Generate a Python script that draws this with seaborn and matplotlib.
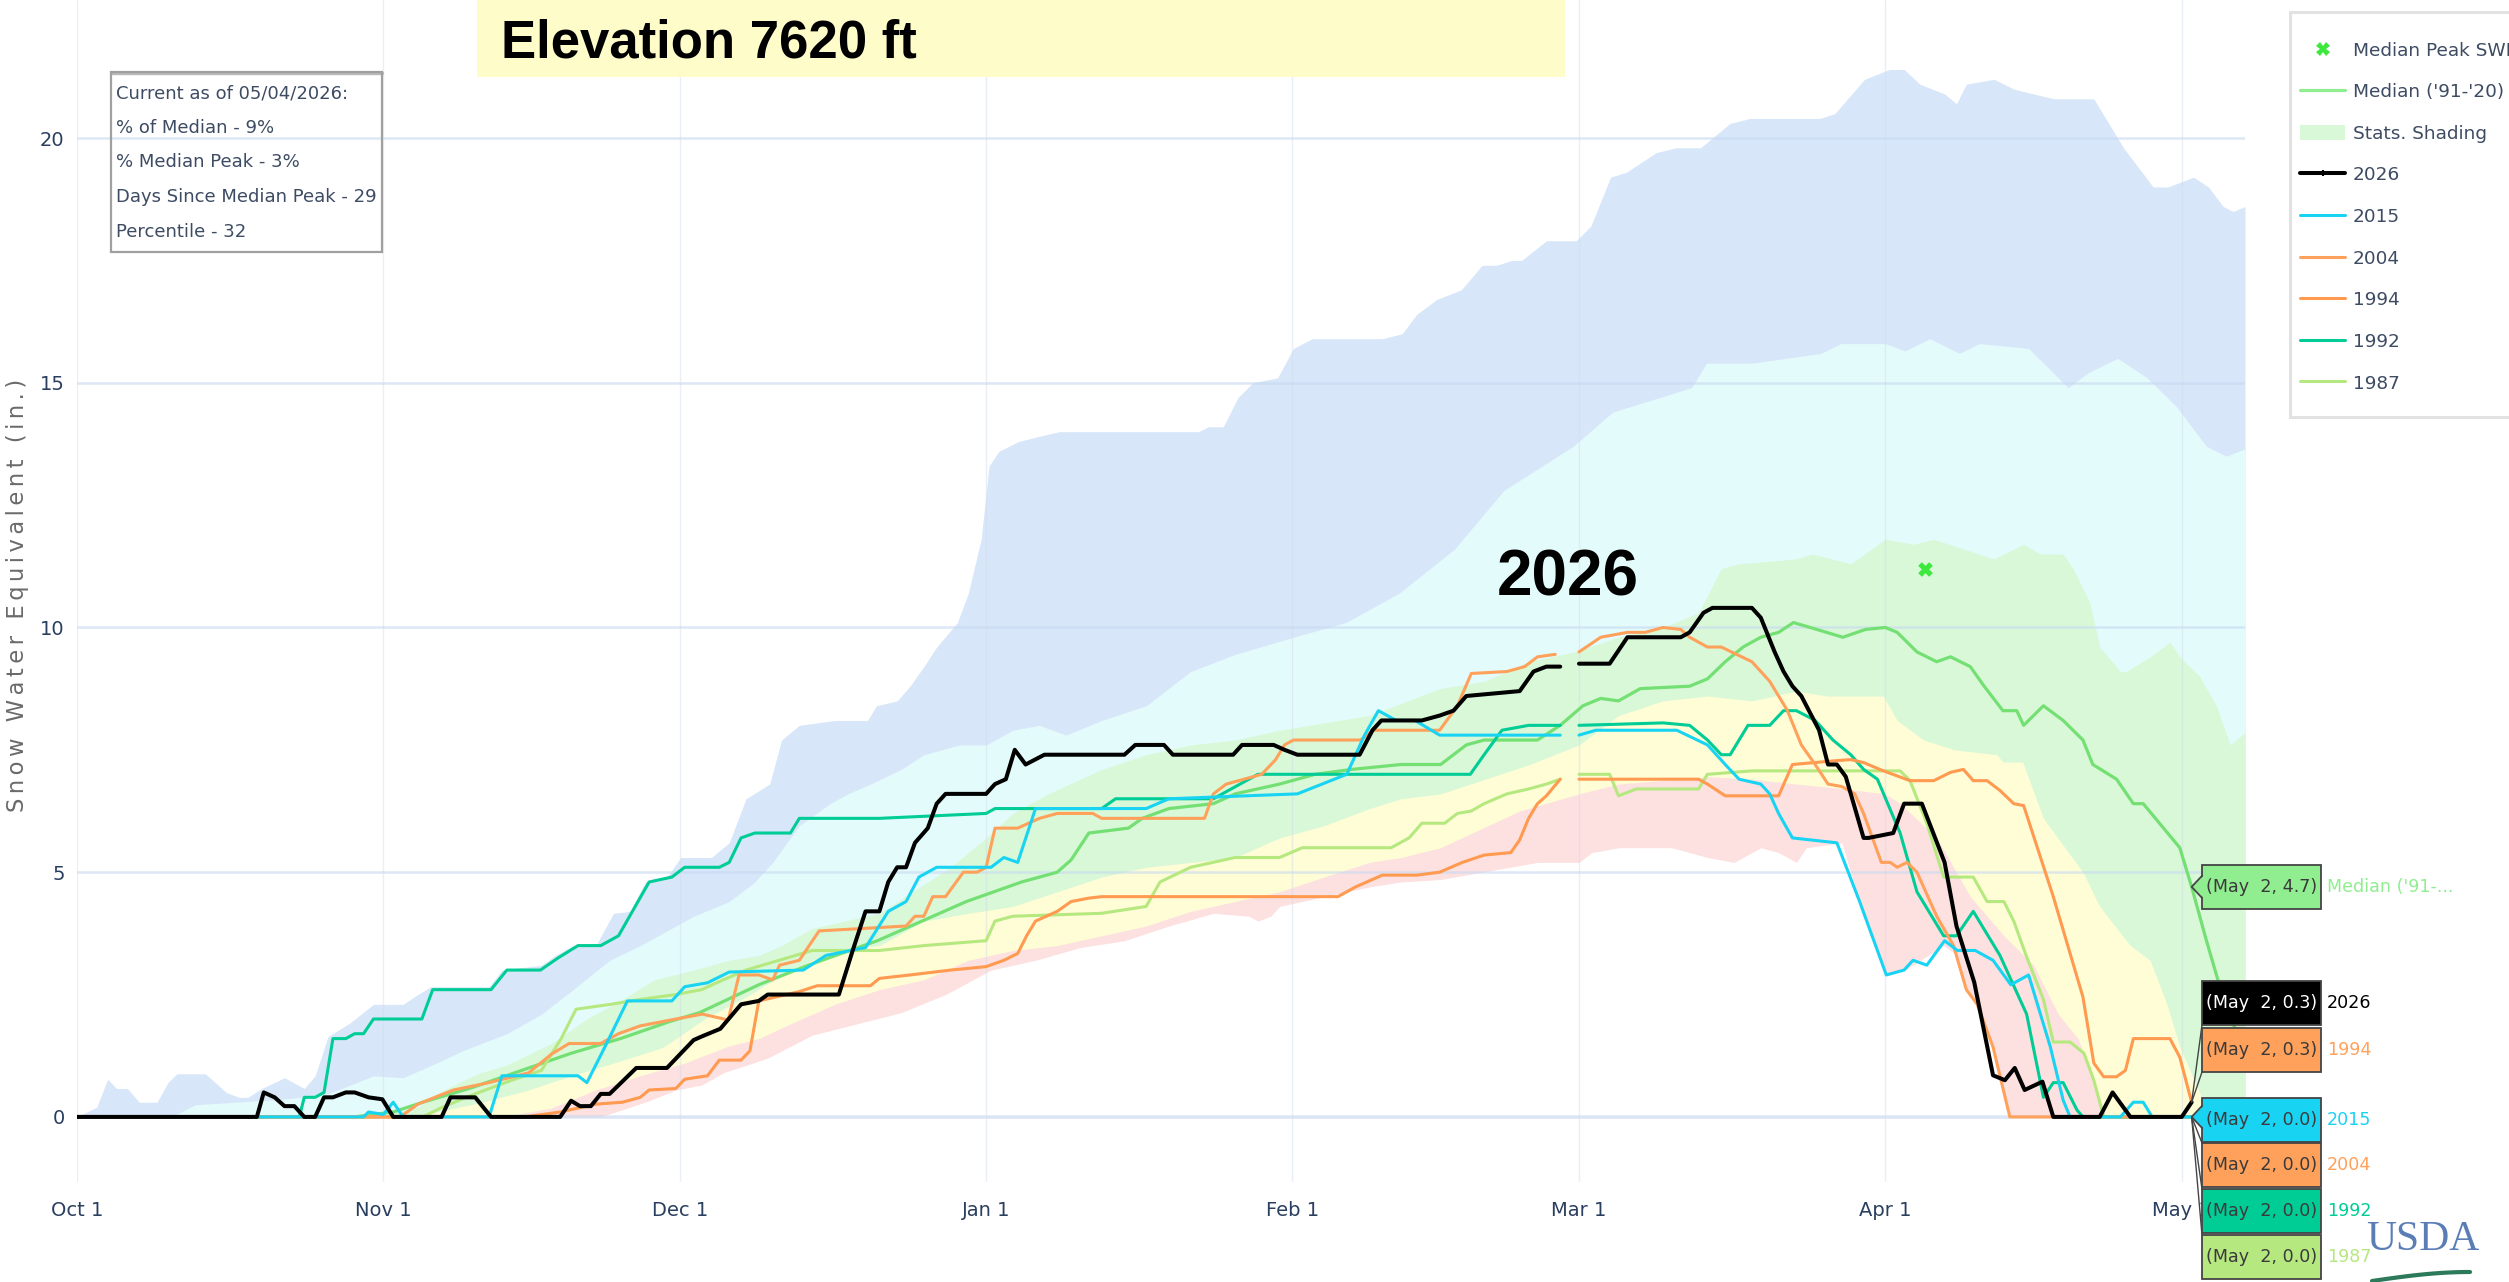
import numpy as np
import pandas as pd
import matplotlib
matplotlib.use("Agg")
import matplotlib.pyplot as plt
import seaborn as sns
from matplotlib.patches import Rectangle, Patch, Polygon
from matplotlib.lines import Line2D
from matplotlib import font_manager as fm

# ------------------------------------------------------------------ data
# day 0 = Oct 1 (leap-year axis, day 151 = Feb 29, Mar 1 = 152)
month_ticks = [0, 31, 61, 92, 123, 152, 183, 213]
month_labels = ["Oct 1", "Nov 1", "Dec 1", "Jan 1", "Feb 1", "Mar 1", "Apr 1", "May 1"]
y_ticks = [0, 5, 10, 15, 20]
hover_day = 214   # May 2

info_lines = ["Current as of 05/04/2026:", "% of Median - 9%", "% Median Peak - 3%",
              "Days Since Median Peak - 29", "Percentile - 32"]

median_peak_day = [187]
median_peak_swe = [11.2]

p_max = [(0,0),(2,0.2),(3.1,0.77),(4,0.58),(5.1,0.58),(6.3,0.3),(8.1,0.3),(9.2,0.7),(10.1,0.88),(13,0.88),
         (15.1,0.5),(16.4,0.4),(17.3,0.4),(18.7,0.58),(21,0.8),(23,0.58),(24.1,0.84),(25.4,1.64),(27.7,1.93),
         (30,2.3),(33,2.3),(34.5,2.5),(35.8,2.66),(41.7,2.66),(43,3.0),(47,3.1),(48.4,3.3),(50.2,3.5),(52.5,3.5),
         (54.3,4.16),(56,4.2),(57.5,4.8),(59.7,4.9),(61.1,5.3),(64.2,5.3),(66,5.6),(67.7,6.5),(70.1,6.8),(71.3,7.7),
         (73.1,8.0),(76.7,8.1),(80,8.1),(80.9,8.4),(83,8.5),(84.3,8.8),(85.7,9.2),(87,9.6),(89.1,10.1),(90.2,10.7),
         (91.5,11.8),(92.3,13.3),(93.3,13.6),(95.3,13.8),(97.3,13.9),(99.4,14.0),(113.5,14.0),(114.5,14.1),
         (116,14.1),(117.5,14.7),(119,15.0),(121.5,15.1),(123.1,15.7),(125,15.9),(132.1,15.9),(134.1,16.0),
         (135.6,16.4),(137.6,16.7),(140.1,16.9),(142.2,17.4),(143.7,17.4),(145.2,17.5),(146.2,17.5),(148.7,17.9),
         (151.7,17.9),(153.2,18.2),(155.2,19.2),(156.8,19.3),(158.3,19.5),(159.8,19.7),(161.8,19.8),(164.3,19.8),
         (167.3,20.3),(169.3,20.4),(176.4,20.4),(177.9,20.5),(180.9,21.2),(183.4,21.4),(184.9,21.4),(186.5,21.1),
         (189,20.9),(190.2,20.7),(191.2,21.1),(194,21.2),(196,21.0),(198,20.9),(200.1,20.8),(204.1,20.8),
         (207.1,19.8),(210.1,19.0),(211.6,19.0),(214.2,19.2),(215.7,19.0),(217.2,18.6),(218.2,18.5),(219.4,18.6)]

p_90 = [(0,0),(10,0.05),(12,0.25),(16,0.3),(20,0.35),(22.7,0.4),(25.4,0.47),(30,0.84),(33,0.8),(36.7,1.13),
        (39,1.35),(43.5,1.7),(47,2.1),(50.2,2.6),(53.9,3.2),(57,3.5),(59.7,3.8),(62.4,4.1),(66,4.4),(68.6,4.8),
        (70.4,5.2),(73.1,5.95),(76.2,6.4),(78,6.6),(80.3,6.8),(83.4,7.1),(85.7,7.4),(89.3,7.6),(92,7.6),(94.7,7.9),
        (97.4,8.0),(100.1,7.8),(103.7,8.1),(108.2,8.4),(112.7,9.1),(117.2,9.45),(123.1,9.8),(128.4,10.1),
        (133.8,10.7),(139.4,11.6),(144.4,12.8),(151.4,13.7),(155.4,14.4),(163.4,14.9),(164.9,15.4),(169.5,15.4),
        (176.5,15.6),(178.5,15.8),(183,15.8),(185,15.65),(187.5,15.9),(190.5,15.6),(192.5,15.8),(197.5,15.7),
        (201.5,14.9),(203.5,15.2),(206.5,15.5),(209.5,15.1),(212.5,14.5),(215.5,13.7),(217.5,13.5),(219.4,13.65)]

p_70 = [(0,0),(30,0),(34.5,0.2),(37.6,0.6),(40.8,0.9),(43.5,1.06),(48,1.5),(51.6,2.0),(55.2,2.4),(58.4,2.8),
        (62.4,3.0),(66,3.2),(69,3.3),(71.3,3.5),(74.4,3.85),(81.2,4.16),(88.4,5.1),(92,5.7),(94.7,6.2),(98.3,6.6),
        (103.7,7.1),(108.2,7.4),(112.7,7.6),(117.2,7.7),(121.7,7.9),(126.2,8.05),(130.8,8.2),(133.4,8.4),
        (137.9,8.75),(142.4,8.9),(146.9,9.3),(151.5,9.5),(156,9.8),(160.5,10.0),(164.1,10.3),(166.4,11.2),
        (168.2,11.3),(174,11.4),(175.6,11.5),(179.5,11.3),(183,11.8),(185.9,11.7),(187.9,11.8),(194,11.4),
        (197,11.7),(198.7,11.5),(201,11.5),(202,11.2),(203.7,10.5),(204.7,9.6),(206.8,9.1),(207.4,9.1),
        (209.8,9.4),(211.8,9.7),(212.8,9.4),(214.8,9.0),(216.5,8.4),(217.9,7.6),(219.4,7.85)]

p_30 = [(0,0),(34,0),(41,0.3),(45.7,0.55),(50,0.84),(54.8,1.13),(59.3,1.42),(63.5,2.0),(67.7,2.45),(72.2,3.0),
        (76.7,3.4),(81.2,3.5),(85.7,4.0),(90.2,4.16),(94.7,4.3),(99.2,4.6),(103.7,4.9),(108.2,5.1),(112.7,5.2),
        (117.2,5.3),(121.7,5.7),(126.2,5.95),(130.8,6.3),(134,6.5),(138,6.6),(147,7.2),(152,7.6),(156,8.2),
        (160.5,8.5),(165,8.6),(169.5,8.5),(174,8.7),(177.1,8.6),(182.8,8.6),(184.2,8.1),(186.9,7.7),(190,7.5),
        (194.3,7.4),(194.9,7.25),(196.9,7.25),(199,6.1),(203,5.0),(204.7,4.3),(207.8,3.5),(209.8,3.2),
        (211.5,2.3),(212.8,1.43),(214.8,0.5),(215.9,0),(219.4,0)]

p_10 = [(0,0),(43,0),(48,0.18),(52.5,0.55),(57,0.84),(61.5,1.1),(66,1.45),(69,1.6),(72.2,1.9),(76.7,2.3),
        (81.2,2.6),(85.7,2.8),(90.2,3.2),(94.7,3.4),(99.2,3.5),(103.7,3.7),(108.2,3.9),(112.7,4.2),(117.2,4.4),
        (121.7,4.6),(126.2,4.9),(130.8,5.2),(134,5.3),(138,5.5),(146,6.25),(152,6.6),(156,6.8),(165,6.95),
        (169.5,6.9),(174,6.8),(179,6.7),(183,6.6),(184.5,6.4),(188.2,5.7),(191.6,4.5),(195,3.7),(198,3.1),
        (200.5,2.1),(202.5,1.6),(204,0.8),(205.3,0),(219.4,0)]

p_min = [(0,0),(53,0),(57.9,0.33),(60.6,0.55),(63.2,0.65),(65.4,0.9),(69.9,1.2),(74.4,1.67),(78.9,1.9),
         (83.4,2.13),(87.9,2.5),(92.5,3.0),(97,3.2),(101.5,3.46),(106,3.6),(110.5,3.9),(115,4.16),(118.6,4.1),
         (119.5,4.0),(120.8,4.1),(121.7,4.3),(126.2,4.5),(130.8,4.7),(134,4.8),(138,4.85),(147.8,5.2),(152,5.2),
         (153.3,5.4),(156,5.5),(161.4,5.5),(165,5.3),(167.7,5.2),(168.6,5.3),(170.4,5.5),(172.2,5.4),(174,5.2),
         (175,5.5),(178.6,5.6),(180.4,4.4),(183.1,2.9),(185,3.0),(188.9,3.5),(190.3,3.3),(191.2,2.6),(192.3,2.3),
         (193.9,1.43),(195.6,0),(219.4,0)]

median = [(0,0),(28,0),(32,0.1),(35,0.3),(40,0.6),(45,0.95),(50,1.3),(55,1.6),(60,1.95),(63,2.13),(69,2.7),
          (74,3.1),(81,3.6),(90,4.4),(95.6,4.8),(99.2,5.0),(100.6,5.25),(102.4,5.8),(106.4,5.9),(107.8,6.1),
          (110.5,6.3),(115,6.4),(117.2,6.6),(121.7,6.8),(125.3,7.0),(129,7.1),(134,7.2),(138,7.2),(140.6,7.6),
          (142.4,7.7),(147.8,7.7),(150.1,8.0),(152.4,8.4),(154.2,8.55),(156,8.5),(158.2,8.75),(163.2,8.8),
          (165,8.95),(166.8,9.3),(168.6,9.6),(170.4,9.8),(172.2,9.9),(173.7,10.1),(175.4,10.0),(178.7,9.8),
          (181,9.96),(183,10.0),(184.2,9.9),(186.2,9.5),(188.2,9.3),(189.6,9.4),(191.6,9.2),(193,8.8),(194.9,8.3),
          (196.3,8.3),(197,8.0),(199,8.4),(201,8.1),(203,7.7),(204,7.2),(206.4,6.9),(208.1,6.4),(209.1,6.4),
          (212.8,5.5),(214,4.7),(215.5,3.6),(216.8,2.7),(218,2.0),(219.4,1.3)]

wy2026 = [(0,0),(18.2,0),(18.9,0.5),(20,0.4),(21,0.22),(22,0.22),(23,0),(24.1,0),(25,0.4),(25.9,0.4),(27.2,0.5),
          (28.1,0.5),(29.5,0.4),(30.9,0.36),(32,0),(36.9,0),(37.8,0.4),(40.3,0.4),(41.9,0),(48.9,0),(50,0.33),
          (50.9,0.22),(52,0.22),(53,0.47),(53.9,0.47),(56.6,1.0),(59.7,1.0),(62.4,1.57),(63.3,1.65),(65.1,1.8),
          (67.2,2.3),(69,2.37),(69.9,2.5),(77.1,2.5),(78.5,3.4),(79.8,4.2),(81.2,4.2),(82.1,4.8),(83,5.1),
          (83.9,5.1),(84.8,5.6),(86.1,5.9),(87,6.4),(87.9,6.6),(92,6.6),(92.9,6.8),(94,6.9),(94.9,7.5),(96,7.2),
          (97.9,7.4),(106,7.4),(107.1,7.6),(110,7.6),(110.9,7.4),(117,7.4),(117.9,7.6),(121.1,7.6),(122.2,7.5),
          (123.5,7.4),(129.8,7.4),(131.1,7.9),(132,8.1),(136.1,8.1),(137.9,8.2),(139.3,8.3),(140.6,8.6),(146,8.7),
          (147.4,9.1),(148.7,9.2),(150.1,9.2),(151,None),(152,9.26),(155.1,9.26),(156.9,9.8),(162.3,9.8),
          (163.2,9.9),(164.6,10.3),(165.5,10.4),(169.5,10.4),(170.4,10.2),(171.8,9.5),(172.7,9.1),(173.6,8.8),
          (174.5,8.6),(176.3,7.9),(177.2,7.2),(178.1,7.2),(179,6.95),(180.8,5.7),(181.3,5.7),(183.8,5.8),
          (184.9,6.4),(186.7,6.4),(189,5.2),(190.2,3.9),(192,2.75),(193.9,0.85),(195.1,0.75),(196.1,1.0),
          (197.1,0.55),(198.9,0.72),(200,0),(204.7,0),(206,0.5),(207.8,0),(213,0),(214,0.3)]

wy2015 = [(0,0),(29,0),(29.5,0.1),(31,0.05),(32,0.3),(33,0),(41.7,0),(43,0.84),(50.7,0.84),(51.6,0.7),
          (53.4,1.42),(55.7,2.37),(60.2,2.37),(61.5,2.66),(63.8,2.74),(66,2.96),(73.5,3.0),(75.8,3.3),(79.8,3.46),
          (82.1,4.2),(83.9,4.4),(85.2,4.9),(87,5.1),(92.5,5.1),(93.8,5.3),(95.2,5.2),(97,6.3),(108.2,6.3),
          (110.5,6.5),(123.5,6.6),(128.5,7.0),(130.3,7.8),(131.7,8.3),(133.5,8.1),(135.4,8.1),(137.9,7.8),
          (150.1,7.8),(151,None),(152,7.8),(153.7,7.9),(161.9,7.9),(165,7.6),(166.8,7.2),(168.2,6.9),(170.4,6.8),
          (171.3,6.6),(172.2,6.2),(173.6,5.7),(178.1,5.6),(180.4,4.4),(183.1,2.9),(184.9,3.0),(185.8,3.2),
          (187.2,3.1),(189,3.6),(190.3,3.4),(192.1,3.4),(193.9,3.2),(195.7,2.7),(197.5,2.9),(199.7,1.43),
          (201,0.34),(201.7,0),(206.8,0),(208.1,0.3),(209.1,0.3),(210,0),(214,0)]

wy2004 = [(0,0),(32.7,0),(34.5,0.26),(36.7,0.44),(38.1,0.55),(41.7,0.7),(45.7,0.9),(48,1.28),(49.8,1.5),
          (53,1.5),(54.8,1.7),(57,1.86),(60.6,2.0),(63.3,2.1),(65.9,1.98),(67,2.9),(69,2.9),(70.4,2.8),(71.1,3.1),
          (73.1,3.2),(75.1,3.8),(83.9,3.9),(84.8,4.1),(85.7,4.1),(86.6,4.5),(87.9,4.5),(89.7,5.0),(91.1,5.0),
          (92,5.1),(92.9,5.9),(95.2,5.9),(97.4,6.1),(99.2,6.2),(102.8,6.2),(103.7,6.1),(114.1,6.1),(115,6.6),
          (116.3,6.8),(119.9,7.0),(121.3,7.3),(122.2,7.6),(123.1,7.7),(129.9,7.7),(131.2,7.9),(137.9,7.9),
          (139.7,8.4),(141.1,9.06),(144.7,9.1),(146.5,9.2),(147.8,9.4),(149.6,9.45),(151,None),(152,9.5),
          (154.2,9.8),(156.9,9.9),(158.7,9.9),(160.5,10.0),(162.3,9.96),(163.2,9.8),(165,9.6),(166.4,9.6),
          (169.5,9.3),(171.3,8.9),(173.1,8.3),(174.5,7.6),(175.9,7.2),(177.2,6.8),(178.6,6.75),(179.9,6.6),
          (180.8,6.2),(182.6,5.2),(183.5,5.2),(184.2,5.1),(185.2,5.2),(186.2,5.0),(188.2,4.1),(189.9,3.5),
          (191.2,2.6),(192.3,2.3),(193.9,1.43),(195.6,0),(214,0)]

wy1994 = [(0,0),(45.3,0),(48.9,0.1),(52.5,0.26),(55.2,0.3),(57,0.4),(57.9,0.55),(60.6,0.58),(61.5,0.77),
          (63.8,0.84),(65,1.16),(67.2,1.16),(68.1,1.35),(69,2.37),(73.1,2.56),(74.9,2.68),(80.3,2.68),(81.2,2.83),
          (84.3,2.9),(88.4,3.0),(92,3.07),(93.8,3.2),(95.2,3.34),(96.1,3.7),(97,4.0),(99.2,4.2),(100.6,4.4),
          (102.4,4.47),(103.7,4.5),(127.6,4.5),(129.4,4.7),(132.1,4.94),(135.6,4.94),(137.9,5.0),(140.2,5.2),
          (142.4,5.35),(145.1,5.4),(146,5.66),(146.9,6.1),(147.8,6.4),(148.7,6.56),(150.1,6.9),(151,None),
          (152,6.9),(164.1,6.9),(165,6.8),(166.8,6.56),(172.2,6.56),(173.6,7.2),(178.1,7.28),(179.5,7.3),
          (180.8,7.24),(182.8,7.07),(185.5,6.87),(187.9,6.87),(189.6,7.04),(190.9,7.1),(191.9,6.87),(193.3,6.87),
          (194.6,6.67),(196,6.4),(197,6.36),(200,4.5),(203,2.45),(204.1,1.1),(205.1,0.82),(206.4,0.82),
          (207.3,0.95),(208.1,1.6),(211.8,1.6),(212.8,1.22),(214,0.3)]

wy1992 = [(0,0),(22.5,0),(23,0.4),(24.1,0.4),(25,0.5),(25.9,1.6),(27.2,1.6),(28.1,1.7),(29,1.7),(30,2.0),
          (34.9,2.0),(36,2.6),(41.9,2.6),(43.5,3.0),(46.9,3.0),(48.7,3.25),(50.7,3.5),(53,3.5),(54.8,3.7),
          (57.9,4.8),(60.2,4.9),(61.5,5.1),(65,5.1),(66,5.2),(67.2,5.7),(68.6,5.8),(72.2,5.8),(73.1,6.1),
          (81.2,6.1),(92,6.2),(92.9,6.3),(103.7,6.3),(105.1,6.5),(115,6.5),(119.5,7.0),(141,7.0),(142.4,7.4),
          (144.2,7.9),(146.9,8.0),(150.1,8.0),(151,None),(152,8.0),(160.5,8.05),(163.2,8.0),(165,7.7),(166.4,7.4),
          (167.3,7.4),(169.1,8.0),(171.3,8.0),(172.7,8.3),(174,8.3),(175.9,8.1),(177.7,7.7),(179.5,7.4),
          (180.8,7.1),(182.2,6.9),(184.5,5.8),(186.2,4.6),(188.9,3.7),(190.2,3.7),(191.9,4.2),(194.6,3.3),
          (197.3,2.1),(199,0.4),(200,0.7),(201,0.7),(202.4,0.14),(203,0),(214,0)]

wy1987 = [(0,0),(35,0),(37,0.2),(40,0.45),(44,0.75),(47,0.95),(49,1.6),(50.5,2.2),(54,2.3),(57,2.4),
          (60.6,2.5),(63.2,2.6),(65.4,2.8),(67.7,3.0),(74.4,3.4),(81.2,3.4),(85.7,3.5),(92,3.6),(92.9,4.0),
          (94.7,4.1),(103.7,4.16),(108.2,4.3),(109.6,4.8),(112.7,5.1),(117.2,5.3),(121.7,5.3),(124,5.5),
          (133,5.5),(134.8,5.7),(136.1,6.0),(138.4,6.0),(139.7,6.2),(141.1,6.25),(142.4,6.4),(144.7,6.6),
          (146.9,6.7),(148.7,6.8),(150.1,6.9),(151,None),(152,7.0),(155.1,7.0),(156,6.56),(157.8,6.7),
          (164.1,6.7),(165,7.0),(169.5,7.07),(184.5,7.07),(185.5,6.87),(187.2,6.0),(188.9,4.9),(191.9,4.9),
          (193.3,4.4),(195,4.4),(196,4.0),(197.3,3.27),(199,2.4),(200,1.53),(201.7,1.53),(203.1,1.3),
          (204.1,0.75),(205.1,0),(214,0)]

# ------------------------------------------------------------------ style
sns.set_theme(style="white")
names = {f.name for f in fm.fontManager.ttflist}
NARROW = "Liberation Sans Narrow" in names
SMALL = ["Liberation Sans Narrow", "DejaVu Sans"] if NARROW else ["DejaVu Sans"]
K = 1.0 if NARROW else 0.74
BOLD = ["Liberation Sans", "DejaVu Sans"]
plt.rcParams["font.family"] = ["DejaVu Sans"]

W, H = 2509, 1282
def fx(x): return x / W
def fy(y): return 1 - y / H

c_median = "#74e074"
colors = {"2026": "#000000", "2015": "#19d3f3", "2004": "#ffa15a", "1994": "#ff9a50",
          "1992": "#00cc96", "1987": "#b6e880"}
txtc = "#2a3f5f"

fig = plt.figure(figsize=(W / 100, H / 100), dpi=100)
ax = fig.add_axes([fx(77), (H - 1182) / H, (2245 - 77) / W, 1182 / H])
ax.set_xlim(0, 219.4)
ax.set_ylim(-1.33, 22.82)
for s in ax.spines.values():
    s.set_visible(False)

def arr(pts):
    d = np.array([p[0] for p in pts], float)
    v = np.array([np.nan if p[1] is None else p[1] for p in pts], float)
    return d, v

def frame(pts):
    d, v = arr(pts)
    seg = np.cumsum(np.isnan(v))
    return pd.DataFrame({"day": d, "swe": v, "seg": seg}).dropna()

def val_at(pts, day):
    return [p[1] for p in pts if p[0] == day][0]

# stats shading (painted from the highest percentile down)
bands = [(p_max, "#d7e6f9"), (p_90, "#e4fbfb"), (p_70, "#d8f8d8"), (p_30, "#fefdd6"),
         (p_10, "#fde0e0"), (p_min, "#ffffff")]
for pts, col in bands:
    d, v = arr(pts)
    ax.fill_between(d, v, 0, color=col, lw=0, zorder=1)

# grid
for yv in y_ticks:
    ax.axhline(yv, color=(0.78, 0.85, 0.95), alpha=0.6, lw=2.6 if yv == 0 else 1.8, zorder=1.5)
for xv in month_ticks:
    ax.axvline(xv, color=(0.82, 0.86, 0.92), alpha=0.45, lw=1.0, zorder=1.5)

# median
sns.lineplot(data=frame(median), x="day", y="swe", units="seg", estimator=None, sort=False,
             color=c_median, lw=2.3, ax=ax, legend=False, zorder=3)

series = [("1987", wy1987), ("1992", wy1992), ("1994", wy1994), ("2004", wy2004),
          ("2015", wy2015), ("2026", wy2026)]
for name, pts in series:
    sns.lineplot(data=frame(pts), x="day", y="swe", units="seg", estimator=None, sort=False,
                 color=colors[name], lw=2.9 if name == "2026" else 2.2, ax=ax, legend=False,
                 zorder=5 if name == "2026" else 4)

sns.scatterplot(x=median_peak_day, y=median_peak_swe, marker="X", s=110, color="#3ce83c",
                linewidth=0, ax=ax, zorder=6, legend=False)

ax.set_xticks(month_ticks)
ax.set_xticklabels(month_labels)
ax.set_yticks(y_ticks)
ax.set_yticklabels([str(v) for v in y_ticks])
ax.tick_params(axis="both", length=0, colors=txtc, labelsize=19 * K)
ax.tick_params(axis="x", pad=14)
ax.tick_params(axis="y", pad=9)
for lab in ax.get_xticklabels() + ax.get_yticklabels():
    lab.set_family(SMALL)
ax.set_xlabel("")
ax.set_ylabel("")

# y label (letter spaced)
ylab = "\u2009".join("Snow Water Equivalent (in.)")
fig.text(fx(18), fy(595), ylab, rotation=90, ha="center", va="center", fontsize=16.3,
         color="#6a6a6a", family=["DejaVu Sans"])

# big year label
ax.text(150.9, 11.0, "2026", ha="center", va="center", fontsize=46, fontweight="bold",
        family=BOLD, color="black", zorder=7)

# title box
fig.patches.append(Rectangle((fx(477), fy(77)), (1565 - 477) / W, 90 / H, transform=fig.transFigure,
                             fc="#fefcc9", ec="none", zorder=2))
fig.text(fx(501), fy(43), "Elevation 7620 ft", ha="left", va="center", fontsize=38,
         fontweight="bold", family=BOLD, color="black", zorder=3)

# info box
fig.patches.append(Rectangle((fx(111), fy(252)), (382 - 111) / W, (252 - 72) / H,
                             transform=fig.transFigure, fill=False, ec="#a0a0a0", lw=1.6, zorder=2))
fig.add_artist(Line2D([fx(111), fx(382)], [fy(72.5), fy(72.5)], color="#b8b8b8", lw=2.4,
                      transform=fig.transFigure, zorder=2))
for i, line in enumerate(info_lines):
    fig.text(fx(116), fy(93 + 34.7 * i), line, ha="left", va="center", fontsize=17.5 * K,
             family=SMALL, color="#3d4b63", zorder=3)

# legend
fig.patches.append(Rectangle((fx(2290), fy(417)), 300 / W, (417 - 12) / H, transform=fig.transFigure,
                             fc="white", ec="#e2e2e2", lw=2.2, zorder=2))
handles = [Line2D([], [], ls="none", marker="X", ms=10, color="#3ce83c", mew=0),
           Line2D([], [], color="#90ee90", lw=2.3),
           Patch(fc="#d8f8d8", ec="none"),
           Line2D([], [], color="black", lw=2.9, marker="|", ms=5, mew=1.5)]
labels = ["Median Peak SWE", "Median ('91-'20)", "Stats. Shading", "2026"]
for name in ["2015", "2004", "1994", "1992", "1987"]:
    handles.append(Line2D([], [], color=colors[name], lw=2.2))
    labels.append(name)
fs_leg = 18 * K
fs_px = fs_leg * 100 / 72
leg = fig.legend(handles, labels, loc="upper left", bbox_to_anchor=(fx(2300), fy(53 - 0.62 * fs_px)),
                 frameon=False, prop={"family": SMALL, "size": fs_leg},
                 handlelength=45 / fs_px, handletextpad=8 / fs_px, borderpad=0, borderaxespad=0,
                 labelspacing=(41.5 - 1.17 * fs_px) / fs_px + 0.2, handleheight=0.9)
for t in leg.get_texts():
    t.set_color("#3d4b63")
leg.set_zorder(4)

# USDA mark
fig.text(fx(2366), fy(1240), "USDA", ha="left", va="center", fontsize=30,
         family=["Liberation Serif", "DejaVu Serif"], color="#5a7db5", zorder=2)
xs = np.linspace(2372, 2470, 40)
fig.add_artist(Line2D(fx(xs), fy(1281 - 9 * np.sin(np.pi * (xs - 2372) / 196)), color="#2d7a5a", lw=3,
                      transform=fig.transFigure, zorder=2))

# hover labels at May 2
hover = [("Median ('91-...", median, "#90ee90", "#3a3a3a", "#90ee90", 887),
         ("2026", wy2026, "#000000", "#ffffff", "#000000", 1003),
         ("1994", wy1994, "#ffa15a", "#3a3a3a", "#ffa15a", 1050),
         ("2015", wy2015, "#19d3f3", "#3a3a3a", "#19d3f3", 1120),
         ("2004", wy2004, "#ffa15a", "#3a3a3a", "#ffa15a", 1165),
         ("1992", wy1992, "#00cc96", "#3a3a3a", "#00cc96", 1211),
         ("1987", wy1987, "#b6e880", "#3a3a3a", "#b6e880", 1257)]
BOX_L, BOX_R, BOX_H = 2202, 2321, 44
for name, pts, fc, tc, lc, ypx in hover:
    v = val_at(pts, hover_day)
    dx, dy = ax.transData.transform((hover_day, v))
    py = H - dy
    top, bot = ypx - BOX_H / 2, ypx + BOX_H / 2
    fig.patches.append(Rectangle((fx(BOX_L), fy(bot)), (BOX_R - BOX_L) / W, BOX_H / H,
                                 transform=fig.transFigure, fc=fc, ec="#444444", lw=1.3, zorder=6))
    if top <= py <= bot:
        tri = [(fx(BOX_L + 1.5), fy(py - 11)), (fx(dx), fy(py)), (fx(BOX_L + 1.5), fy(py + 11))]
        fig.patches.append(Polygon(tri, closed=True, transform=fig.transFigure, fc=fc, ec="none", zorder=6.5))
        fig.add_artist(Line2D([fx(BOX_L), fx(dx), fx(BOX_L)], [fy(py - 11), fy(py), fy(py + 11)],
                              color="#444444", lw=1.3, transform=fig.transFigure, zorder=6.6))
    else:
        yc = min(max(py, top), bot)
        fig.add_artist(Line2D([fx(dx), fx(BOX_L)], [fy(py), fy(yc)], color="#444444", lw=1.0,
                              transform=fig.transFigure, zorder=5.5))
    fig.text(fx((BOX_L + BOX_R) / 2), fy(ypx), f"(May  2, {v:.1f})", ha="center", va="center",
             fontsize=17 * K, family=SMALL, color=tc, zorder=7)
    fig.text(fx(2327), fy(ypx), name, ha="left", va="center", fontsize=17 * K, family=SMALL,
             color=lc, zorder=7)

fig.savefig("out.png", dpi=100)
